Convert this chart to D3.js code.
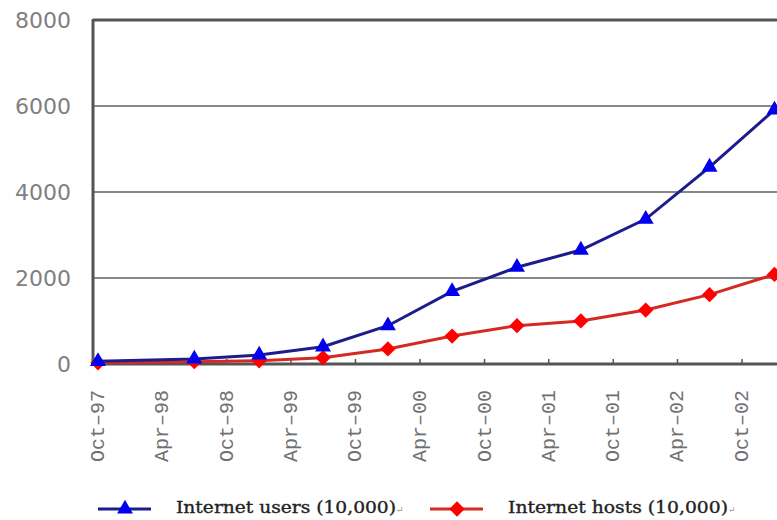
<!DOCTYPE html>
<html lang="en">
<head>
  <meta charset="UTF-8">
  <title>Internet users and hosts</title>
  <script src="https://d3js.org/d3.v7.min.js"></script>
  <style>
    body { margin: 0; background: #fff; }
    .ytick { font-family: 'DejaVu Sans', sans-serif; font-size: 22px; fill: #808080; }
    .xtick { font-family: 'Liberation Mono', monospace; font-size: 20px; fill: #707070; }
    .legend-text { font-family: 'DejaVu Serif', serif; font-size: 16.5px; fill: #222; stroke: #222; stroke-width: 0.35; }
  </style>
</head>
<body>
<svg id="chart" width="777" height="520"></svg>
<script>
  // survey dates (CNNIC half-yearly reports)
  const dates = ["1997-10", "1998-07", "1999-01", "1999-07", "2000-01", "2000-07",
                 "2001-01", "2001-07", "2002-01", "2002-07", "2003-01"];
  const users = [62, 117.5, 210, 400, 890, 1690, 2250, 2650, 3370, 4580, 5910];
  const hosts = [29.9, 54.2, 74.7, 146, 350, 650, 892, 1002, 1254, 1613, 2083];
  const tickLabels = ["Oct-97", "Apr-98", "Oct-98", "Apr-99", "Oct-99", "Apr-00",
                      "Oct-00", "Apr-01", "Oct-01", "Apr-02", "Oct-02"];
  const yTicks = [0, 2000, 4000, 6000, 8000];

  const parse = d3.timeParse("%Y-%m");
  const parseTick = d3.timeParse("%b-%y");

  const svg = d3.select("#chart");
  const plotL = 93, plotR = 777, plotT = 20, plotB = 364;

  const x = d3.scaleTime()
    .domain([parseTick("Oct-97"), parseTick("Oct-02")])
    .range([98, 742]);
  const y = d3.scaleLinear().domain([0, 8000]).range([plotB, plotT]);

  // gridlines
  svg.append("g")
    .selectAll("line")
    .data(yTicks.filter(d => d > 0))
    .join("line")
    .attr("x1", plotL).attr("x2", plotR)
    .attr("y1", d => y(d)).attr("y2", d => y(d))
    .attr("stroke", d => d === 8000 ? "#555" : "#888")
    .attr("stroke-width", d => d === 8000 ? 2.8 : 1.8);

  // y labels
  svg.append("g")
    .selectAll("text")
    .data(yTicks)
    .join("text")
    .attr("class", "ytick")
    .attr("x", 71)
    .attr("y", d => y(d))
    .attr("dy", "0.36em")
    .attr("text-anchor", "end")
    .text(d => d);

  // x axis with ticks
  const xAxis = svg.append("g");
  xAxis.append("line")
    .attr("x1", plotL).attr("x2", plotR)
    .attr("y1", plotB).attr("y2", plotB)
    .attr("stroke", "#555").attr("stroke-width", 2.8);
  xAxis.selectAll("line.tk")
    .data(tickLabels)
    .join("line")
    .attr("class", "tk")
    .attr("x1", d => x(parseTick(d))).attr("x2", d => x(parseTick(d)))
    .attr("y1", plotB - 5).attr("y2", plotB)
    .attr("stroke", "#555").attr("stroke-width", 1.5);
  xAxis.selectAll("text")
    .data(tickLabels)
    .join("text")
    .attr("class", "xtick")
    .attr("transform", d => `translate(${x(parseTick(d)) + 6},390) rotate(-90)`)
    .attr("text-anchor", "end")
    .text(d => d.replace("-", "\u2013"));

  // left axis
  svg.append("line")
    .attr("x1", plotL).attr("x2", plotL)
    .attr("y1", plotT - 1).attr("y2", plotB + 1)
    .attr("stroke", "#555").attr("stroke-width", 3);

  const series = [
    { name: "Internet hosts (10,000)", values: hosts, line: "#d42a22", mark: "#ff0000", shape: d3.symbolDiamond2, size: 150 },
    { name: "Internet users (10,000)", values: users, line: "#1c1c8c", mark: "#0000ee", shape: d3.symbolTriangle, size: 110 }
  ];

  const line = d3.line()
    .x((d, i) => x(parse(dates[i])))
    .y(d => y(d));

  series.forEach(s => {
    svg.append("path")
      .attr("d", line(s.values))
      .attr("fill", "none")
      .attr("stroke", s.line)
      .attr("stroke-width", 3);
    svg.append("g")
      .selectAll("path")
      .data(s.values)
      .join("path")
      .attr("transform", (d, i) => `translate(${x(parse(dates[i]))},${y(d)})`)
      .attr("d", d3.symbol().type(s.shape).size(s.size))
      .attr("fill", s.mark);
  });

  // legend
  const legendItems = [
    { s: series[1], x0: 98 },
    { s: series[0], x0: 430 }
  ];
  legendItems.forEach(({ s, x0 }) => {
    const g = svg.append("g").attr("transform", `translate(${x0},509)`);
    g.append("line").attr("x1", 0).attr("x2", 53)
      .attr("stroke", s.line).attr("stroke-width", 3);
    g.append("path")
      .attr("transform", "translate(27,0)")
      .attr("d", d3.symbol().type(s.shape).size(s.size))
      .attr("fill", s.mark);
    const t = g.append("text").attr("class", "legend-text")
      .attr("x", 78).attr("dy", "0.22em");
    t.append("tspan").attr("textLength", 220).attr("lengthAdjust", "spacingAndGlyphs").text(s.name);
    t.append("tspan").attr("font-size", 9).attr("fill", "#999").attr("stroke", "none").text("\u21b5");
  });
</script>
</body>
</html>
